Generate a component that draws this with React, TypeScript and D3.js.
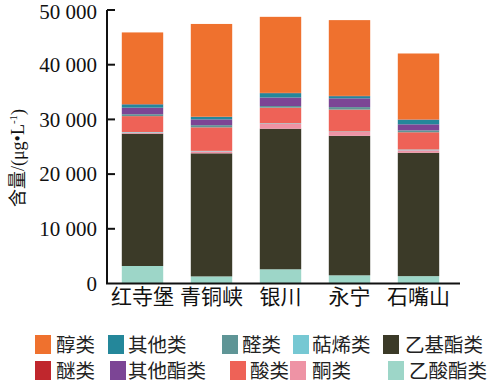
import React from 'react';
import * as d3 from 'd3';

const sites = ['红寺堡', '青铜峡', '银川', '永宁', '石嘴山'];

// stacked bottom -> top
const seriesKeys = ['乙酸酯类', '乙基酯类', '酮类', '萜烯类', '酸类', '醛类', '其他酯类', '其他类', '醚类', '醇类'];

const acetateEsters = [3200, 1300, 2600, 1500, 1350];
const ethylEsters = [24200, 22500, 25700, 25500, 22550];
const ketones = [200, 350, 900, 700, 450];
const terpenes = [100, 100, 100, 100, 150];
const acids = [2900, 4300, 2850, 4000, 3150];
const aldehydes = [350, 400, 300, 450, 350];
const otherEsters = [1200, 1050, 1550, 1600, 1100];
const others = [600, 450, 800, 400, 850];
const ethers = [50, 50, 50, 50, 50];
const alcohols = [13100, 16950, 13900, 13850, 12050];

const yTicks = [0, 10000, 20000, 30000, 40000, 50000];

const colors: Record<string, string> = {
  '醇类': '#ef712e',
  '其他类': '#24879a',
  '醛类': '#5f9596',
  '萜烯类': '#76c8d3',
  '乙基酯类': '#3b3a28',
  '醚类': '#c0272d',
  '其他酯类': '#7c4595',
  '酸类': '#ee6257',
  '酮类': '#ee93a5',
  '乙酸酯类': '#9dd6c8',
};

// legend rows as they appear
const legendRow1 = ['醇类', '其他类', '醛类', '萜烯类', '乙基酯类'];
const legendRow2 = ['醚类', '其他酯类', '酸类', '酮类', '乙酸酯类'];

const FONT = '"Liberation Serif", "Times New Roman", "Noto Sans CJK SC", serif';

const App: React.FC = () => {
  const width = 491;
  const height = 384;
  const axisX = 107;
  const axisY = 283.5;

  const values: Record<string, number[]> = {
    '乙酸酯类': acetateEsters,
    '乙基酯类': ethylEsters,
    '酮类': ketones,
    '萜烯类': terpenes,
    '酸类': acids,
    '醛类': aldehydes,
    '其他酯类': otherEsters,
    '其他类': others,
    '醚类': ethers,
    '醇类': alcohols,
  };

  const rows = sites.map((s, i) => {
    const r: Record<string, number | string> = { site: s };
    seriesKeys.forEach(k => { r[k] = values[k][i]; });
    return r;
  });

  const stacked = d3.stack<Record<string, number | string>>()
    .keys(seriesKeys)
    .value((d, k) => d[k] as number)(rows);

  const x = d3.scaleBand().domain(sites).range([108, 453]).paddingInner(0.4).paddingOuter(0.2);
  const y = d3.scaleLinear().domain([0, 50000]).range([axisY, 10]);

  const fmt = (v: number) => v === 0 ? '0' : d3.format(',')(v).replace(',', ' ');

  // legend x positions (square left, text left)
  const row1Sq = [35, 108, 222, 293, 383];
  const row1Tx = [56, 128, 242, 312, 405];
  const row2Sq = [35, 110, 230, 290, 388];
  const row2Tx = [56, 128, 250, 312, 409];

  return (
    <svg width={width} height={height} style={{ position: 'absolute', left: 0, top: 0, background: '#fff' }}
      fontFamily={FONT}>
      {stacked.map(layer => (
        <g key={layer.key} fill={colors[layer.key]}>
          {layer.map((d, i) => (
            <rect key={i} x={x(sites[i])} width={x.bandwidth()}
              y={y(d[1])} height={y(d[0]) - y(d[1])} />
          ))}
        </g>
      ))}

      {/* y axis */}
      <line x1={axisX} x2={axisX} y1={y(50000)} y2={axisY} stroke="#111" strokeWidth={2} />
      {yTicks.map(t => (
        <g key={t}>
          {t > 0 && <line x1={axisX} x2={axisX + 8} y1={y(t)} y2={y(t)} stroke="#111" strokeWidth={2} />}
          <text x={97} y={Math.max(y(t), 12)} dy="0.35em" textAnchor="end" fontSize={21} fill="#111">{fmt(t)}</text>
        </g>
      ))}

      {/* x axis */}
      <line x1={axisX - 1} x2={460} y1={axisY} y2={axisY} stroke="#111" strokeWidth={2} />
      {sites.map(s => (
        <text key={s} x={(x(s) ?? 0) + x.bandwidth() / 2} y={304} textAnchor="middle" fontSize={21} fill="#111">{s}</text>
      ))}

      {/* y axis title */}
      <text transform="translate(24,158) rotate(-90)" textAnchor="middle" fontSize={18} fill="#111">
        含量/(μg•L<tspan dy={-7} fontSize={11}>-1</tspan><tspan dy={7}>)</tspan>
      </text>

      {/* legend */}
      {legendRow1.map((k, i) => (
        <g key={k}>
          <rect x={row1Sq[i]} y={335} width={16} height={19} fill={colors[k]} />
          <text x={row1Tx[i]} y={352} fontSize={19.5} fill="#222">{k}</text>
        </g>
      ))}
      {legendRow2.map((k, i) => (
        <g key={k}>
          <rect x={row2Sq[i]} y={361} width={16} height={19} fill={colors[k]} />
          <text x={row2Tx[i]} y={378} fontSize={19.5} fill="#222">{k}</text>
        </g>
      ))}
    </svg>
  );
};

export default App;
